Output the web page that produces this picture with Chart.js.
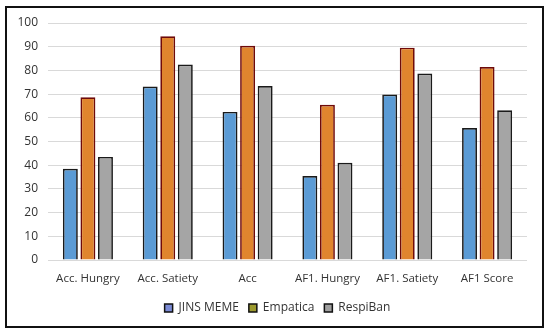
<!DOCTYPE html>
<html><head><meta charset="utf-8">
<script src="https://cdn.jsdelivr.net/npm/chart.js@4/dist/chart.umd.min.js"></script>
<style>html,body{margin:0;padding:0;background:#fff}#wrap{width:550px;height:336px;position:relative}</style>
</head><body><div id="wrap"><canvas id="c" width="550" height="336"></canvas></div>
<script>
const categories = ["Acc. Hungry","Acc. Satiety","Acc","AF1. Hungry","AF1. Satiety","AF1 Score"];
const jinsMeme = [38.5, 73.2, 62.5, 35.4, 69.8, 55.7];
const empatica = [68.7, 94.4, 90.4, 65.5, 89.6, 81.4];
const respiBan = [43.5, 82.5, 73.4, 41.0, 78.7, 63.2];
const yTicks = [0,10,20,30,40,50,60,70,80,90,100];

const legendBoxColors = ["#7B8BD6", "#9C9A2E", "#A0A0A0"];

const frame = {
  id: 'frame',
  afterLayout(chart) {
    if (chart.legend) { chart.legend.left += 14; chart.legend.right += 14; }
  },
  afterDraw(chart) {
    const ctx = chart.ctx;
    ctx.save();
    ctx.strokeStyle = '#111';
    ctx.lineWidth = 2;
    ctx.strokeRect(6, 7, 537, 320);
    ctx.restore();
  }
};

new Chart(document.getElementById('c'), {
  type: 'bar',
  data: {
    labels: categories,
    datasets: [
      {label: 'JINS MEME', data: jinsMeme, backgroundColor: '#5B9BD5', borderColor: '#1a1a1a', borderWidth: 1.7},
      {label: 'Empatica', data: empatica, backgroundColor: '#E0852E', borderColor: '#6E0A0A', borderWidth: 1.7},
      {label: 'RespiBan', data: respiBan, backgroundColor: '#A5A5A5', borderColor: '#1a1a1a', borderWidth: 1.7}
    ]
  },
  options: {
    responsive: false,
    animation: false,
    devicePixelRatio: 1,
    layout: {padding: {top: 23, left: 0, right: 23, bottom: 12}},
    datasets: {bar: {barPercentage: 0.85, categoryPercentage: 0.66}},
    scales: {
      x: {
        grid: {display: false, drawTicks: false},
        border: {display: false},
        ticks: {color: '#333333', font: {family: 'Open Sans', size: 11.5}, padding: 12, maxRotation: 0},
        afterFit(s) { s.height = 32; }
      },
      y: {
        min: 0, max: 100,
        afterBuildTicks(s) { s.ticks = yTicks.map(v => ({value: v})); },
        grid: {color: '#D9D9D9', lineWidth: 1, drawTicks: false},
        border: {display: false},
        ticks: {color: '#333333', font: {family: 'Open Sans', size: 12}, padding: 10},
        afterFit(s) { s.width = 48; }
      }
    },
    plugins: {
      tooltip: {enabled: false},
      legend: {
        position: 'bottom',
        labels: {
          color: '#333333',
          font: {family: 'Open Sans', size: 12},
          boxWidth: 8, boxHeight: 8, padding: 10,
          generateLabels(chart) {
            return chart.data.datasets.map((d, i) => ({
              text: d.label, fillStyle: legendBoxColors[i], strokeStyle: '#111',
              lineWidth: 1.5, datasetIndex: i, hidden: false, fontColor: '#333333'
            }));
          }
        }
      }
    }
  },
  plugins: [frame]
});
</script></body></html>
